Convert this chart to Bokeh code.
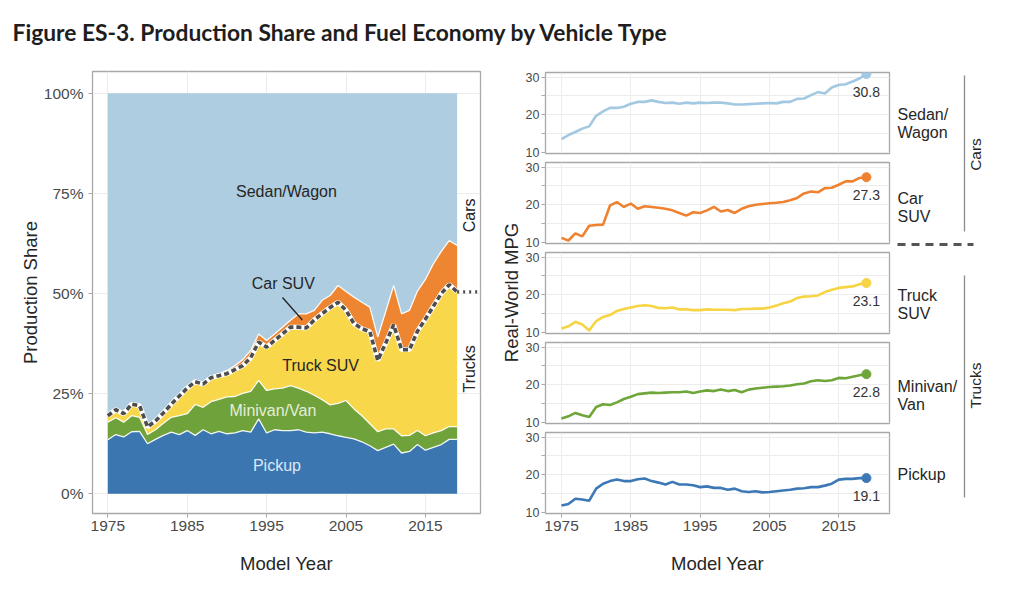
import math
import numpy as np
from bokeh.plotting import figure
from bokeh.models import Range1d, FixedTicker, Label, ColumnDataSource, Arrow
from bokeh.layouts import column, row
from bokeh.embed import file_html
from bokeh.resources import INLINE
from bokeh.core.properties import value

# ---------------- data ----------------
years = list(range(1975, 2020))

pickup_share = [13.5, 14.8, 14.2, 15.5, 15.6, 12.5, 13.6, 14.6, 15.4, 14.8,
                15.8, 14.6, 16.0, 15.0, 15.6, 15.0, 15.2, 15.8, 15.4, 18.7,
                15.2, 16.0, 15.8, 15.8, 16.0, 15.4, 15.2, 15.4, 15.0, 14.5,
                14.1, 13.7, 13.0, 12.0, 10.8, 11.6, 12.4, 10.2, 10.6, 12.3,
                10.9, 11.6, 12.3, 13.6, 13.6]
minivan_share = [4.4, 4.2, 3.7, 4.0, 3.5, 2.3, 2.4, 3.0, 3.7, 4.7,
                 4.2, 7.7, 5.6, 8.0, 8.0, 9.2, 9.1, 9.3, 10.2, 9.6,
                 10.6, 10.2, 10.6, 11.2, 10.4, 10.2, 9.4, 8.1, 7.2, 8.1,
                 9.2, 7.5, 6.5, 5.5, 4.7, 4.6, 3.8, 4.3, 4.0, 3.5,
                 3.6, 3.6, 3.5, 3.2, 3.2]
truck_suv_share = [1.6, 2.0, 2.1, 2.9, 2.9, 1.9, 2.2, 2.6, 3.3, 4.9,
                   6.4, 5.7, 5.8, 6.0, 5.9, 5.8, 6.7, 6.9, 8.4, 9.6,
                   10.8, 12.1, 13.5, 14.6, 15.2, 15.8, 18.8, 21.5, 24.3, 25.2,
                   22.5, 21.3, 21.7, 23.0, 17.8, 21.4, 26.0, 21.5, 21.4, 24.8,
                   29.1, 31.6, 34.2, 35.4, 33.6]
car_suv_share = [0.0, 0.0, 0.0, 0.0, 0.0, 0.0, 0.0, 0.0, 0.0, 0.1,
                 0.2, 0.3, 0.3, 0.4, 0.5, 0.8, 1.0, 1.5, 1.8, 2.0,
                 1.7, 1.6, 1.7, 1.7, 3.3, 3.5, 2.4, 3.3, 3.0, 4.2,
                 4.7, 6.6, 6.6, 6.1, 5.8, 7.9, 9.8, 8.9, 9.8, 10.0,
                 9.9, 10.6, 10.5, 11.0, 11.6]
sedan_share = [80.5, 79.0, 80.0, 77.6, 78.0, 83.3, 81.8, 79.8, 77.6, 75.5,
               73.4, 71.7, 72.3, 70.6, 70.0, 69.2, 68.0, 66.5, 64.2, 60.1,
               61.7, 60.1, 58.4, 56.7, 55.1, 55.1, 54.2, 51.7, 50.5, 48.0,
               49.5, 50.9, 52.2, 53.4, 60.9, 54.5, 48.0, 55.1, 54.2, 49.4,
               46.5, 42.6, 39.5, 36.8, 38.0]

mpg_sedan = [13.5, 14.6, 15.4, 16.3, 16.9, 19.7, 20.9, 21.8, 21.8, 22.1,
             22.9, 23.4, 23.4, 23.8, 23.4, 23.1, 23.2, 22.9, 23.2, 23.0,
             23.2, 23.1, 23.2, 23.2, 23.0, 22.7, 22.7, 22.8, 22.9, 23.0,
             23.1, 23.0, 23.4, 23.4, 24.2, 24.3, 25.2, 26.0, 25.6, 27.2,
             27.9, 28.1, 28.8, 29.6, 30.8]
mpg_car_suv = [11.2, 10.5, 12.4, 11.6, 14.4, 14.6, 14.7, 19.8, 20.7, 19.4,
               20.3, 18.9, 19.6, 19.4, 19.2, 18.9, 18.5, 17.8, 17.1, 18.0,
               17.8, 18.5, 19.4, 18.2, 18.6, 17.8, 18.9, 19.6, 20.0, 20.2,
               20.4, 20.5, 20.7, 21.2, 21.8, 23.0, 23.5, 23.3, 24.4, 24.5,
               25.3, 26.2, 26.2, 27.1, 27.3]
mpg_truck_suv = [11.0, 11.6, 12.8, 12.1, 10.5, 13.0, 14.1, 14.6, 15.7, 16.2,
                 16.6, 17.0, 17.2, 17.0, 16.5, 16.4, 16.6, 16.1, 16.1, 15.9,
                 15.9, 16.1, 16.0, 16.0, 16.0, 15.9, 16.2, 16.2, 16.3, 16.3,
                 16.6, 17.1, 17.7, 18.2, 19.1, 19.5, 19.6, 19.8, 20.7, 21.3,
                 21.8, 22.0, 22.2, 22.8, 23.1]
mpg_minivan = [11.0, 11.6, 12.5, 11.9, 11.4, 14.1, 14.8, 14.6, 15.3, 16.2,
               16.8, 17.5, 17.7, 17.9, 17.8, 17.9, 18.0, 18.0, 18.2, 17.8,
               18.2, 18.5, 18.3, 18.7, 18.3, 18.6, 18.0, 18.7, 19.0, 19.2,
               19.4, 19.5, 19.6, 19.8, 20.1, 20.3, 20.9, 21.2, 21.0, 21.2,
               21.8, 21.7, 22.1, 22.5, 22.8]
mpg_pickup = [11.8, 12.2, 13.6, 13.4, 13.1, 16.3, 17.6, 18.3, 18.7, 18.3,
              18.3, 18.8, 19.0, 18.3, 17.9, 17.4, 18.1, 17.4, 17.4, 17.2,
              16.7, 16.9, 16.5, 16.5, 16.0, 16.3, 15.6, 15.4, 15.6, 15.3,
              15.4, 15.6, 15.8, 16.0, 16.3, 16.4, 16.7, 16.7, 17.1, 17.6,
              18.7, 18.9, 18.9, 19.1, 19.1]

share_ticks = [0, 25, 50, 75, 100]
share_tick_labels = ["0%", "25%", "50%", "75%", "100%"]
year_ticks = [1975, 1985, 1995, 2005, 2015]
mpg_ticks = [10, 20, 30]
mpg_minor_ticks = [15, 25]

TITLE = "Figure ES-3. Production Share and Fuel Economy by Vehicle Type"

# ---------------- styles ----------------
FONT = "Liberation Sans"
C_SEDAN = "#aecde1"
C_CARSUV = "#ee8631"
C_TRUCKSUV = "#f8d74a"
C_MINIVAN = "#6fa23b"
C_PICKUP = "#3b76b0"
L_SEDAN = "#a3c9e2"
L_CARSUV = "#ef8230"
L_TRUCKSUV = "#f6d443"
L_MINIVAN = "#6fa63a"
L_PICKUP = "#3d78b6"
BORDER = "#a8a8a8"
GRID = "#ececec"
TICKLAB = "#4a4a4a"
TXT = "#262626"


def style_axes(p):
    for ax in p.axis:
        ax.axis_line_color = None
        ax.major_tick_line_color = BORDER
        ax.major_tick_in = 0
        ax.major_tick_out = 4
        ax.minor_tick_line_color = None
        ax.major_label_text_font = FONT
        ax.major_label_text_color = TICKLAB
        ax.axis_label_text_font = FONT
        ax.axis_label_text_font_style = "normal"
        ax.axis_label_text_color = TXT
        ax.axis_label_text_font_size = "18.5px"
    p.grid.grid_line_color = GRID
    p.outline_line_color = BORDER
    p.outline_line_width = 1.3
    p.background_fill_color = "white"
    p.border_fill_color = "white"


def blank(p):
    p.axis.visible = False
    p.grid.visible = False
    p.outline_line_color = None
    p.border_fill_color = "white"


# ---------------- header ----------------
header = figure(width=1024, height=50, x_range=Range1d(0, 1024), y_range=Range1d(50, 0),
                toolbar_location=None, output_backend="svg", min_border=0)
blank(header)
header.add_layout(Label(x=12, y=31, text=TITLE, text_font="Lato", text_font_style="bold",
                        text_font_size="22.8px", text_color="#1e1e1e", text_baseline="alphabetic"))

# ---------------- left: production share ----------------
left = figure(width=497, height=545, x_range=Range1d(1973.07, 2021.94), y_range=Range1d(-4.9, 105.4),
              toolbar_location=None, output_backend="svg",
              min_border_left=92, min_border_right=17, min_border_top=21, min_border_bottom=82)
style_axes(left)
left.xaxis.ticker = FixedTicker(ticks=year_ticks)
left.yaxis.ticker = FixedTicker(ticks=share_ticks)
left.yaxis.major_label_overrides = dict(zip(share_ticks, share_tick_labels))
left.xaxis.major_label_text_font_size = "15.5px"
left.yaxis.major_label_text_font_size = "15.5px"
left.xaxis.major_label_standoff = 3
left.yaxis.major_label_standoff = 5
left.xaxis.axis_label = "Model Year"
left.yaxis.axis_label = "Production Share"
left.xaxis.axis_label_standoff = 19
left.yaxis.axis_label_standoff = 0

src = ColumnDataSource(dict(year=years, pickup=pickup_share, minivan=minivan_share,
                            truck_suv=truck_suv_share, car_suv=car_suv_share, sedan=sedan_share))
left.varea_stack(stackers=["pickup", "minivan", "truck_suv", "car_suv", "sedan"], x="year",
                 color=[C_PICKUP, C_MINIVAN, C_TRUCKSUV, C_CARSUV, C_SEDAN], source=src)

cum = np.cumsum(np.array([pickup_share, minivan_share, truck_suv_share, car_suv_share]), axis=0)
for k in (0, 1, 3):
    left.line(years, cum[k], line_color="white", line_width=1.3, line_alpha=0.9)
left.line(years, cum[2], line_color="white", line_width=5)
left.line(years, cum[2], line_color="#4d4d4d", line_width=3.6, line_dash="5 3")
left.line([years[-1], 2021.94], [cum[2][-1], cum[2][-1]], line_color="#4d4d4d",
          line_width=3.4, line_dash="2 4")


def lab(p, x, y, text, color=TXT, size="16px", angle=0.0, align="center"):
    p.add_layout(Label(x=x, y=y, text=text, text_font=FONT, text_font_size=size,
                       text_color=color, text_align=align, text_baseline="middle", angle=angle))


lab(left, 1997.5, 75.5, "Sedan/Wagon")
lab(left, 1997.1, 52.4, "Car SUV")
left.add_layout(Arrow(x_start=1997.0, y_start=49.0, x_end=1999.5, y_end=43.4, end=None,
                      line_color="#222222", line_width=1.3))
lab(left, 2001.8, 32.0, "Truck SUV")
lab(left, 1995.8, 20.8, "Minivan/Van", color="#e4eed9")
lab(left, 1996.3, 7.1, "Pickup", color="#dde8f3")
lab(left, 2020.6, 69.5, "Cars", angle=math.pi / 2)
lab(left, 2020.6, 31.2, "Trucks", angle=math.pi / 2)

# ---------------- y label strip (frame aligned to page y 71..513) ----------------
ylab = figure(width=25, height=545, x_range=Range1d(497, 522), y_range=Range1d(513, 71),
              toolbar_location=None, output_backend="svg",
              min_border_left=0, min_border_right=0, min_border_top=21, min_border_bottom=82)
blank(ylab)
lab(ylab, 511, 292, "Real-World MPG", size="18.5px", angle=math.pi / 2)

# ---------------- right: MPG panels ----------------
xr = Range1d(1972.69, 2022.33)


def panel(vals, color, height, top, bottom, last=False):
    p = figure(width=369, height=height, x_range=xr, y_range=Range1d(9.7, 31.2),
               toolbar_location=None, output_backend="svg",
               min_border_left=23, min_border_right=2, min_border_top=top, min_border_bottom=bottom)
    style_axes(p)
    p.yaxis.ticker = FixedTicker(ticks=mpg_ticks, minor_ticks=mpg_minor_ticks)
    p.yaxis.minor_tick_line_color = BORDER
    p.yaxis.minor_tick_in = 0
    p.yaxis.minor_tick_out = 4
    p.yaxis.major_label_text_font_size = "12.5px"
    p.yaxis.major_label_standoff = 2
    p.ygrid.ticker = FixedTicker(ticks=mpg_ticks + mpg_minor_ticks)
    p.xgrid.ticker = FixedTicker(ticks=year_ticks)
    p.xaxis.ticker = FixedTicker(ticks=year_ticks)
    if last:
        p.xaxis.major_label_text_font_size = "15.5px"
        p.xaxis.major_label_standoff = 3
        p.xaxis.axis_label = "Model Year"
        p.xaxis.axis_label_standoff = 19
    else:
        p.xaxis.visible = False
    p.line(years, vals, line_color=color, line_width=2.6)
    p.scatter([years[-1]], [vals[-1]], size=9, color=color)
    p.text([years[-1]], [vals[-1]], text=["%.1f" % vals[-1]], text_font=value(FONT),
           text_font_size="14px", text_color="#333333", text_align="center",
           text_baseline="middle", y_offset=18)
    return p


p1 = panel(mpg_sedan, L_SEDAN, 109, 22, 6)
p2 = panel(mpg_car_suv, L_CARSUV, 90, 3, 6)
p3 = panel(mpg_truck_suv, L_TRUCKSUV, 90, 3, 6)
p4 = panel(mpg_minivan, L_MINIVAN, 90, 3, 6)
p5 = panel(mpg_pickup, L_PICKUP, 166, 3, 82, last=True)

# ---------------- strip labels / brackets (frame aligned to page y 71..513) ----------------
strip = figure(width=133, height=545, x_range=Range1d(891, 1024), y_range=Range1d(513, 71),
               toolbar_location=None, output_backend="svg",
               min_border_left=0, min_border_right=0, min_border_top=21, min_border_bottom=82)
blank(strip)


def slab(y, text):
    strip.add_layout(Label(x=897, y=y, text=text, text_font=FONT, text_font_size="16px",
                           text_color=TXT, text_align="left", text_baseline="alphabetic"))


slab(114, "Sedan/"); slab(132, "Wagon")
slab(198, "Car"); slab(216, "SUV")
slab(295, "Truck"); slab(313, "SUV")
slab(386, "Minivan/"); slab(404, "Van")
slab(474, "Pickup")
strip.add_layout(Arrow(x_start=964, y_start=75, x_end=964, y_end=231, end=None,
                       line_color="#8c8c8c", line_width=1.3))
strip.add_layout(Arrow(x_start=964, y_start=275, x_end=964, y_end=497, end=None,
                       line_color="#8c8c8c", line_width=1.3))
strip.add_layout(Arrow(x_start=897, y_start=244, x_end=973, y_end=244, end=None,
                       line_color="#555555", line_width=3, line_dash="8 6"))
strip.add_layout(Label(x=975, y=154, text="Cars", text_font=FONT, text_font_size="15.5px",
                       text_color=TXT, text_align="center", text_baseline="middle", angle=math.pi / 2))
strip.add_layout(Label(x=975, y=385, text="Trucks", text_font=FONT, text_font_size="15.5px",
                       text_color=TXT, text_align="center", text_baseline="middle", angle=math.pi / 2))

layout = column(header, row(left, ylab, column(p1, p2, p3, p4, p5), strip))
open("out.html", "w").write(file_html(layout, INLINE))
